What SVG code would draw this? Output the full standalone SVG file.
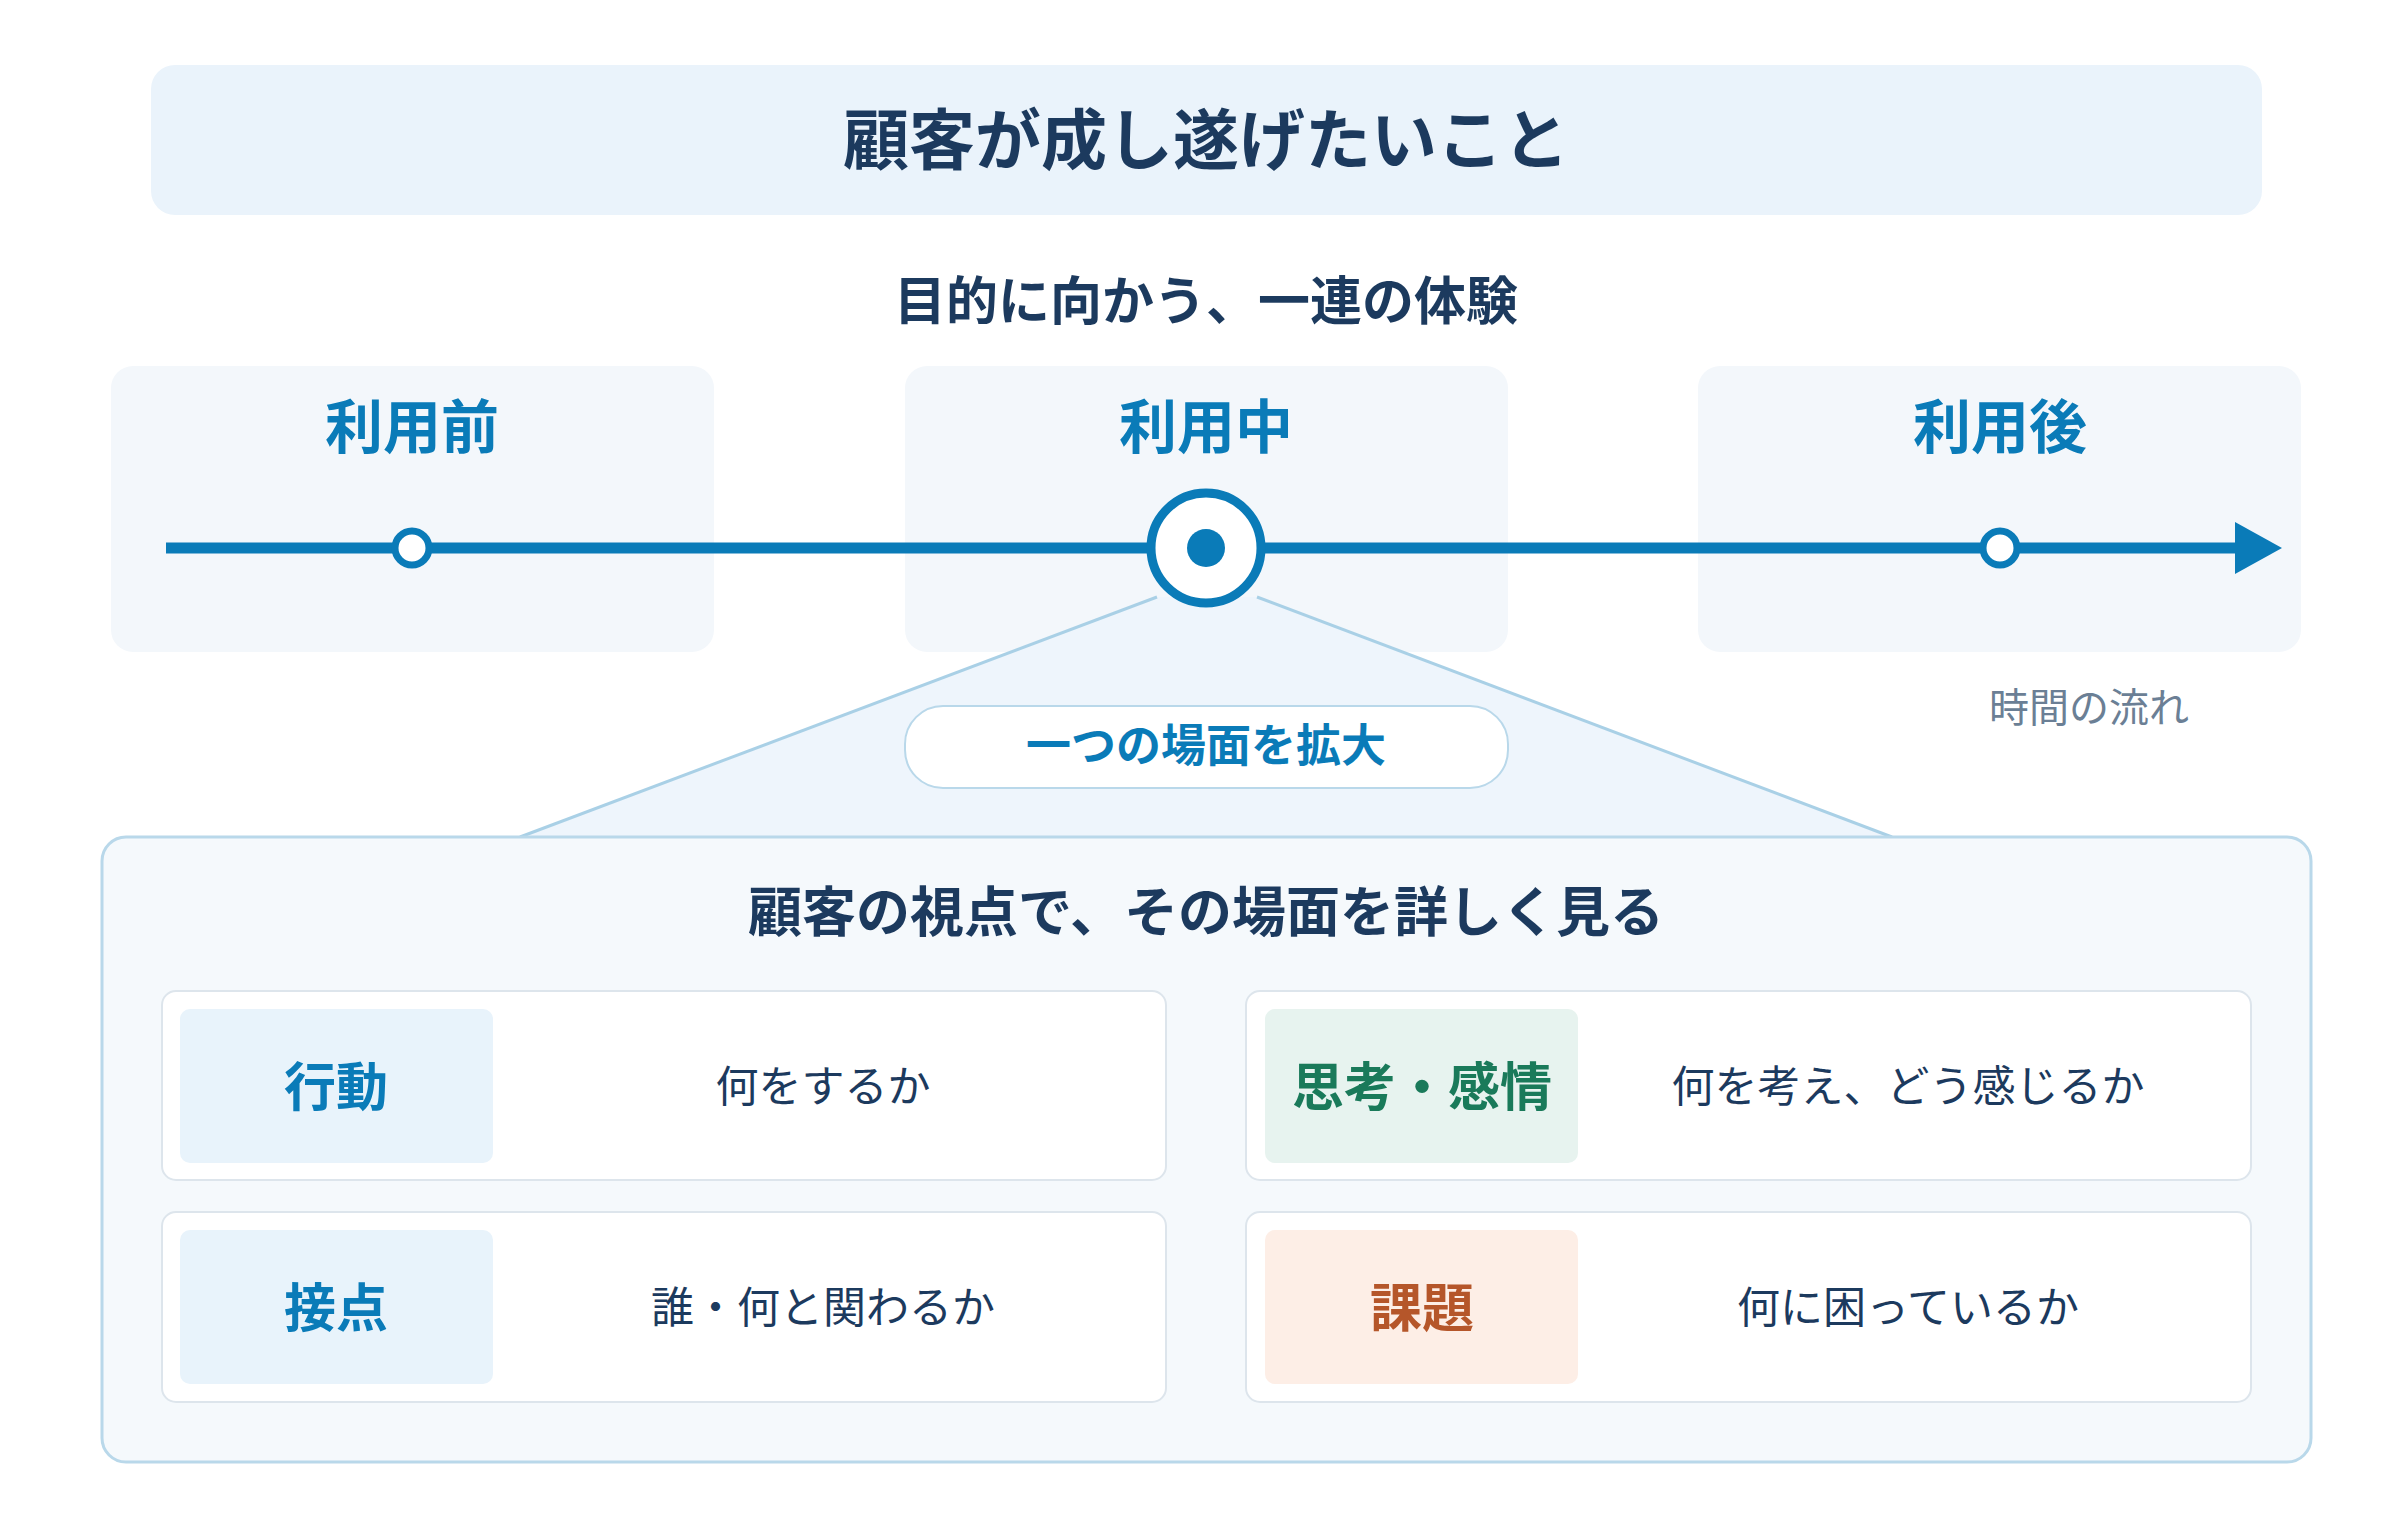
<svg xmlns="http://www.w3.org/2000/svg" width="2400" height="1540" viewBox="0 0 2400 1540">
<style>
text{font-family:"Noto Sans CJK JP","Noto Sans",sans-serif;text-anchor:middle}
.b{font-weight:700}
.dark{fill:#1c3a5e}
.blue{fill:#0a7bb8}
.stage{fill:#f3f7fb}
.card{fill:#fff;stroke:#dde5ec;stroke-width:2}
.desc{font-size:43px;fill:#1c3a5e}
.lab{font-size:52px;font-weight:700}
</style>
<rect width="2400" height="1540" fill="#fff"/>
<g id="title"><rect x="151" y="65" width="2111" height="150" rx="24" fill="#eaf3fb"/><text x="1206" y="164" class="b dark" font-size="66">顧客が成し遂げたいこと</text></g>
<g id="subtitle"><text x="1206" y="320" class="b dark" font-size="52">目的に向かう、一連の体験</text></g>
<g id="before"><rect class="stage" x="111" y="366" width="603" height="286" rx="22"/><text x="412" y="448" class="b blue" font-size="58">利用前</text></g>
<g id="during"><rect class="stage" x="905" y="366" width="603" height="286" rx="22"/><text x="1206" y="448" class="b blue" font-size="58">利用中</text></g>
<g id="after"><rect class="stage" x="1698" y="366" width="603" height="286" rx="22"/><text x="2000" y="448" class="b blue" font-size="58">利用後</text></g>
<g id="zoom"><polygon points="1157,597 1257,597 1892,837 520,837" fill="#eef5fc"/></g>
<g id="connectors">
<line x1="166" y1="548" x2="2240" y2="548" stroke="#0a7bb8" stroke-width="11"/>
<polygon points="2235,522 2282,548 2235,574" fill="#0a7bb8"/>
<line x1="1157" y1="597" x2="520" y2="837" stroke="#a9d0e6" stroke-width="3"/>
<line x1="1257" y1="597" x2="1892" y2="837" stroke="#a9d0e6" stroke-width="3"/>
</g>
<g id="points">
<circle cx="412" cy="548" r="17" fill="#fff" stroke="#0a7bb8" stroke-width="7"/>
<circle cx="2000" cy="548" r="17" fill="#fff" stroke="#0a7bb8" stroke-width="7"/>
<circle cx="1206" cy="548" r="55" fill="#fff" stroke="#0a7bb8" stroke-width="9"/>
<circle cx="1206" cy="548" r="19" fill="#0a7bb8"/>
</g>
<g id="timelabel"><text x="2089" y="722" font-size="40" fill="#6b7f95">時間の流れ</text></g>
<g id="pill"><rect x="905" y="706" width="603" height="82" rx="38" fill="#fff" stroke="#b9d8ea" stroke-width="2"/><text x="1206" y="762" class="b blue" font-size="45">一つの場面を拡大</text></g>
<g id="panel"><rect x="102" y="837" width="2209" height="625" rx="24" fill="#f5f9fc" stroke="#b9d8ea" stroke-width="3"/><text x="1206" y="932" class="b dark" font-size="54">顧客の視点で、その場面を詳しく見る</text></g>
<g id="action"><rect class="card" x="162" y="991" width="1004" height="189" rx="14"/><rect x="180" y="1009" width="313" height="154" rx="10" fill="#e8f3fb"/><text x="336" y="1106" class="lab blue">行動</text><text x="823" y="1102" class="desc">何をするか</text></g>
<g id="thought"><rect class="card" x="1246" y="991" width="1005" height="189" rx="14"/><rect x="1265" y="1009" width="313" height="154" rx="10" fill="#e7f3ef"/><text x="1422" y="1106" class="lab" fill="#1a7a5a">思考・感情</text><text x="1908" y="1102" class="desc">何を考え、どう感じるか</text></g>
<g id="contact"><rect class="card" x="162" y="1212" width="1004" height="190" rx="14"/><rect x="180" y="1230" width="313" height="154" rx="10" fill="#e8f3fb"/><text x="336" y="1327" class="lab blue">接点</text><text x="823" y="1323" class="desc">誰・何と関わるか</text></g>
<g id="issue"><rect class="card" x="1246" y="1212" width="1005" height="190" rx="14"/><rect x="1265" y="1230" width="313" height="154" rx="10" fill="#fdeee6"/><text x="1422" y="1327" class="lab" fill="#b5562a">課題</text><text x="1908" y="1323" class="desc">何に困っているか</text></g>
</svg>
